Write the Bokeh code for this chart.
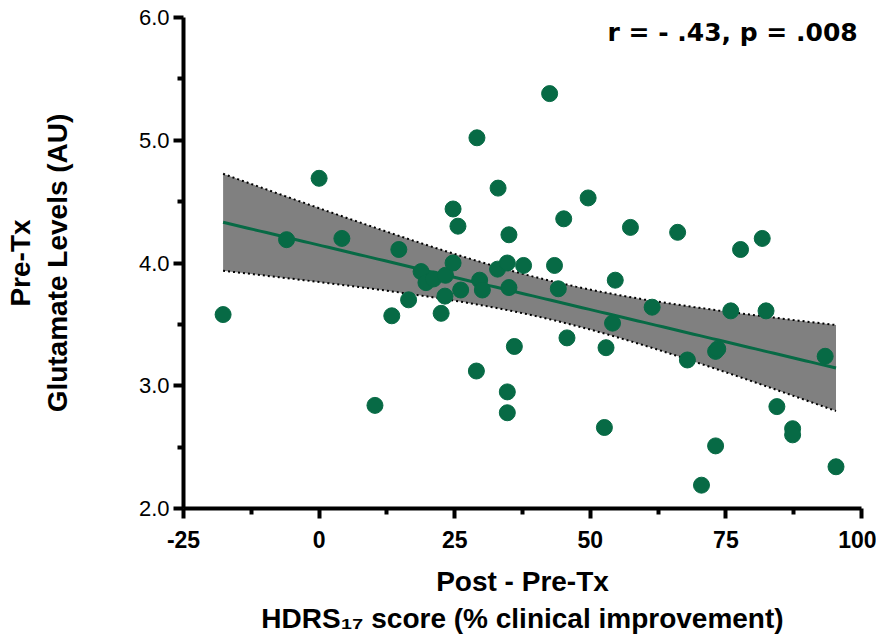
import numpy as np
from bokeh.plotting import figure
from bokeh.models import Range1d, FixedTicker, PrintfTickFormatter, Label, ColumnDataSource
from bokeh.embed import file_html
from bokeh.resources import INLINE

# HDRS17 % clinical improvement (x) vs pre-Tx glutamate levels (y)
improvement = [-17.7, -6.0, 0.0, 4.2, 10.3, 13.4, 14.7, 16.5, 18.8, 19.7, 21.1, 23.3, 24.7, 23.2,
               22.5, 26.1, 24.7, 25.6, 29.1, 33.0, 35.0, 29.6, 30.1, 32.9, 34.7, 37.7, 35.0, 36.0,
               29.0, 42.5, 49.6, 45.1, 57.4, 66.1, 77.7, 81.7, 43.4, 44.1, 54.6, 61.4, 54.1, 45.7,
               52.9, 34.7, 34.7, 52.6, 67.9, 73.1, 73.5, 75.9, 82.4, 93.3, 84.4, 87.3, 87.3, 73.1,
               70.5, 95.3]
glutamate = [3.58, 4.19, 4.69, 4.20, 2.84, 3.57, 4.11, 3.70, 3.93, 3.84, 3.87, 3.90, 4.00, 3.73,
             3.59, 3.78, 4.44, 4.30, 5.02, 4.61, 4.23, 3.86, 3.78, 3.95, 4.00, 3.98, 3.80, 3.32,
             3.12, 5.38, 4.53, 4.36, 4.29, 4.25, 4.11, 4.20, 3.98, 3.79, 3.86, 3.64, 3.51, 3.39,
             3.31, 2.95, 2.78, 2.66, 3.21, 3.28, 3.30, 3.61, 3.61, 3.24, 2.83, 2.65, 2.60, 2.51,
             2.19, 2.34]

x_ticks = [-25, 0, 25, 50, 75, 100]
x_tick_labels = ["-25", "0", "25", "50", "75", "100"]
x_minor = [-12.5, 12.5, 37.5, 62.5, 87.5]
y_ticks = [2.0, 3.0, 4.0, 5.0, 6.0]
y_minor = [2.5, 3.5, 4.5, 5.5]
stat_text = "r = - .43, p = .008"

GREEN = "#076a45"

# linear regression with 95% confidence band
x = np.array(improvement)
y = np.array(glutamate)
n = len(x)
slope, intercept = np.polyfit(x, y, 1)
xs = np.linspace(x.min(), x.max(), 100)
fit = intercept + slope * xs
resid = y - (intercept + slope * x)
s = np.sqrt(np.sum(resid ** 2) / (n - 2))
sxx = np.sum((x - x.mean()) ** 2)
t_crit = 2.003
half = t_crit * s * np.sqrt(1.0 / n + (xs - x.mean()) ** 2 / sxx)
upper = fit + half
lower = fit - half

p = figure(width=876, height=636, output_backend="svg", toolbar_location=None,
           x_range=Range1d(-25, 100), y_range=Range1d(2, 6),
           min_border_left=183, min_border_right=15, min_border_top=17, min_border_bottom=127)
p.outline_line_color = None
p.xgrid.visible = False
p.ygrid.visible = False

band = ColumnDataSource(dict(x=xs, upper=upper, lower=lower, fit=fit))
p.varea(x="x", y1="lower", y2="upper", source=band, fill_color="#808080")
p.line(x="x", y="upper", source=band, line_color="black", line_width=2, line_dash="2 3")
p.line(x="x", y="lower", source=band, line_color="black", line_width=2, line_dash="2 3")
p.line(x="x", y="fit", source=band, line_color=GREEN, line_width=3)
p.scatter(improvement, glutamate, size=16, fill_color=GREEN, line_color=GREEN)

for ax in (p.xaxis[0], p.yaxis[0]):
    ax.axis_line_width = 4
    ax.major_tick_line_width = 4
    ax.minor_tick_line_width = 4
    ax.major_tick_in = 0
    ax.minor_tick_in = 0
    ax.major_tick_out = 10
    ax.minor_tick_out = 6
    ax.axis_label_text_font = "Liberation Sans"
    ax.axis_label_text_font_style = "bold"
    ax.axis_label_text_font_size = "28px"
    ax.axis_label_text_color = "black"
    ax.major_label_text_color = "black"

p.xaxis.ticker = FixedTicker(ticks=x_ticks, minor_ticks=x_minor)
p.xaxis.major_label_overrides = {t: lab for t, lab in zip(x_ticks, x_tick_labels)}
p.yaxis.ticker = FixedTicker(ticks=y_ticks, minor_ticks=y_minor)
p.yaxis.formatter = PrintfTickFormatter(format="%.1f")

p.yaxis.major_label_text_font = "Liberation Sans"
p.yaxis.major_label_text_font_size = "22px"
p.yaxis.major_label_standoff = 4
p.yaxis.axis_label = "Pre-Tx\nGlutamate Levels (AU)"
p.yaxis.axis_label_standoff = 63

p.xaxis.major_label_text_font = "Liberation Sans"
p.xaxis.major_label_text_font_style = "bold"
p.xaxis.major_label_text_font_size = "23px"
p.xaxis.major_label_standoff = 12
p.xaxis.axis_label = "Post - Pre-Tx\nHDRS\u2081\u2087 score (% clinical improvement)"
p.xaxis.axis_label_standoff = 15

p.add_layout(Label(x=99.3, y=5.88, text=stat_text, text_align="right", text_baseline="middle",
                   text_font="DejaVu Sans", text_font_style="bold", text_font_size="25px",
                   text_color="black"))

open("out.html", "w").write(file_html(p, INLINE))
